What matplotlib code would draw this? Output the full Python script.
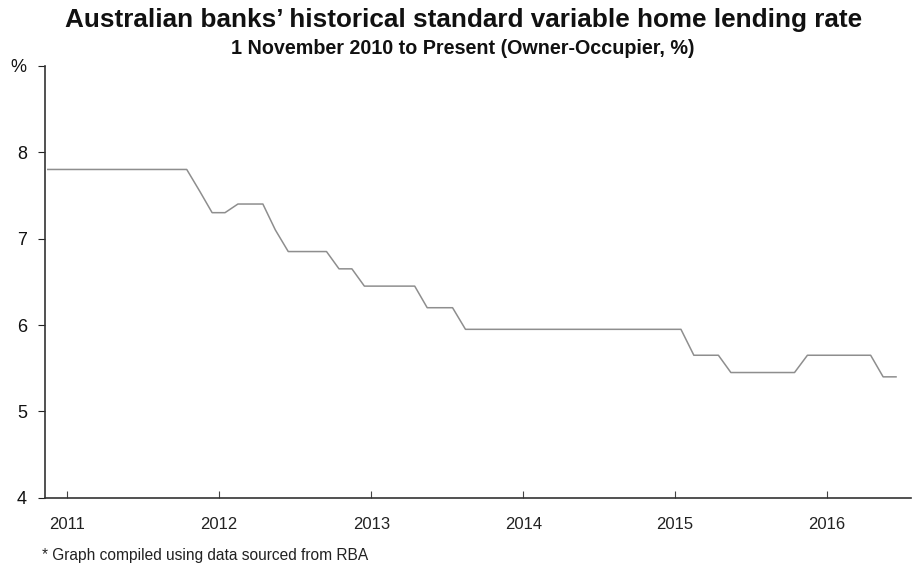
import pandas as pd
import matplotlib
matplotlib.use("Agg")
import matplotlib.pyplot as plt
import matplotlib.dates as mdates

# ── Data (monthly, Owner-Occupier SVR, %) ─────────────────────────────────────
MESES = pd.date_range("2010-11-01", periods=68, freq="MS") + pd.Timedelta(days=14)
TAXAS = [
    7.80, 7.80,                                                       # 2010
    7.80, 7.80, 7.80, 7.80, 7.80, 7.80, 7.80, 7.80, 7.80, 7.80, 7.55, 7.30,  # 2011
    7.30, 7.40, 7.40, 7.40, 7.10, 6.85, 6.85, 6.85, 6.85, 6.65, 6.65, 6.45,  # 2012
    6.45, 6.45, 6.45, 6.45, 6.20, 6.20, 6.20, 5.95, 5.95, 5.95, 5.95, 5.95,  # 2013
    5.95, 5.95, 5.95, 5.95, 5.95, 5.95, 5.95, 5.95, 5.95, 5.95, 5.95, 5.95,  # 2014
    5.95, 5.65, 5.65, 5.65, 5.45, 5.45, 5.45, 5.45, 5.45, 5.45, 5.65, 5.65,  # 2015
    5.65, 5.65, 5.65, 5.65, 5.40, 5.40,                               # 2016
]
Y_TICKS  = [4, 5, 6, 7, 8, 9]
Y_LABELS = ["4", "5", "6", "7", "8", "%"]

TITULO    = "Australian banks\u2019 historical standard variable home lending rate"
SUBTITULO = "1 November 2010 to Present (Owner-Occupier, %)"
RODAPE    = "* Graph compiled using data sourced from RBA"

plt.rcParams["font.family"] = ["Liberation Sans", "DejaVu Sans"]

fig = plt.figure(figsize=(9.16, 5.67), dpi=100)
ax = fig.add_axes([0.049, 0.122, 0.946, 0.762])

ax.plot(MESES, TAXAS, color="#8e8e8e", linewidth=1.1)

ax.set_xlim(pd.Timestamp("2010-11-08"), pd.Timestamp("2016-07-22"))
ax.set_ylim(4, 9)
ax.set_yticks(Y_TICKS)
ax.set_yticklabels(Y_LABELS, fontsize=13)

ax.xaxis.set_major_locator(mdates.YearLocator())
ax.xaxis.set_major_formatter(mdates.DateFormatter("%Y"))
ax.tick_params(axis="x", direction="in", length=5, labelsize=12, pad=14,
               color="#444444", labelcolor="#222222")
ax.tick_params(axis="y", direction="out", length=5, pad=8,
               color="#222222", labelcolor="#111111")

for lado in ("top", "right"):
    ax.spines[lado].set_visible(False)
ax.spines["left"].set_color("#333333")
ax.spines["bottom"].set_color("#333333")
ax.spines["left"].set_linewidth(1.2)
ax.spines["bottom"].set_linewidth(1.2)

fig.text(0.506, 0.965, TITULO, ha="center", va="center",
         fontsize=18.8, fontweight="bold", color="#111111")
fig.text(0.505, 0.915, SUBTITULO, ha="center", va="center",
         fontsize=14.2, fontweight="bold", color="#111111")
fig.text(0.046, 0.021, RODAPE, ha="left", va="center",
         fontsize=11.2, color="#222222")

fig.savefig("out.png", dpi=100)
